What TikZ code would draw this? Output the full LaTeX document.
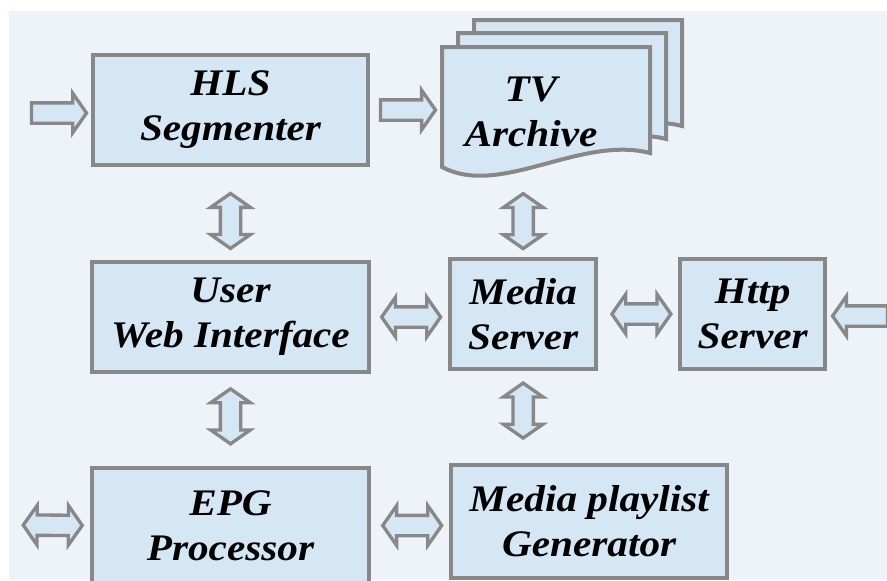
\documentclass[tikz,border=0pt]{standalone}
\usepackage{fontspec}
\newfontfamily\boxfont{Liberation Serif}[FakeStretch=1.1]
\usetikzlibrary{positioning,shapes.arrows,calc}
\definecolor{bgcol}{HTML}{EEF2F9}
\definecolor{boxfill}{HTML}{D5E6F5}
\definecolor{boxline}{HTML}{888888}

\begin{document}
\begin{tikzpicture}[x=0.03cm,y=-0.03cm,on grid,
	lbl/.style={align=center,inner sep=0pt,font=\boxfont\bfseries\itshape\fontsize{32}{38.4}\selectfont},
	box/.style={lbl,draw=boxline,fill=boxfill,line width=0.12cm,minimum height=3.3cm},
	sarrow/.style={single arrow,draw=boxline,fill=boxfill,line width=0.1cm,inner xsep=0pt,inner ysep=0.255cm,
		minimum width=0pt,minimum height=1.65cm,single arrow head extend=0.29cm,single arrow tip angle=110,
		sloped,allow upside down},
	darrow/.style={double arrow,draw=boxline,fill=boxfill,line width=0.1cm,inner xsep=0pt,inner ysep=0.255cm,
		minimum width=0pt,minimum height=1.65cm,double arrow head extend=0.29cm,double arrow tip angle=110,
		sloped}]
	\useasboundingbox (0,0) rectangle (887,580);
	\clip (0,0) rectangle (887,580);
	\fill[bgcol] (9,11) rectangle (887,580);

	% archive sheets
	\foreach \dx/\dy in {32/-27,16/-14,0/0}
		\draw[boxline,fill=boxfill,line width=0.12cm,shift={(\dx,\dy)}] (442,167) -- (442,47) -- (650,47) -- (650,153)
		.. controls (580,135) and (500,198) .. (442,167) -- cycle;

	\node[box,minimum width=8.25cm] (HLS_Seg) at (230.5,110) {HLS\\Segmenter};
	\node[inner sep=0pt,minimum width=6.24cm,minimum height=3.6cm] (TV_Arch) at (546,107) {};
	\node[lbl] (TV_Text) at ($(TV_Arch.center)+(-15,5)$) {TV\\Archive};
	\node[box,minimum width=8.31cm] (User_Web) [below=6.21cm of HLS_Seg] {User\\Web Interface};
	\node[box,minimum width=4.38cm] (Media_Srv) [above right=0.09cm and 8.78cm of User_Web] {Media\\Server};
	\node[box,minimum width=4.35cm] (Http_Srv) [right=6.885cm of Media_Srv] {Http\\Server};
	\node[box,minimum width=8.28cm,minimum height=3.45cm] (EPG_Proc) [below=6.255cm of User_Web] {EPG\\Processor};
	\node[box,minimum width=8.28cm,minimum height=3.39cm] (Playlist_Gen) [below right=6.225cm and 1.98cm of Media_Srv] {Media playlist\\Generator};

	\coordinate (HLS_In) at (20,113);
	\coordinate (Http_In) at (900,316);
	\coordinate (EPG_Out) at (15,525);

	\path (HLS_In) -- node[sarrow] {} (HLS_In -| HLS_Seg.west)
		(HLS_Seg.east) -- node[sarrow,pos=0.48] {} (HLS_Seg.east -| TV_Arch.west)
		(Http_In) -- node[sarrow] {} (Http_In -| Http_Srv.east);
	\path (HLS_Seg.south) -- node[darrow,pos=0.58] {} (HLS_Seg.south |- User_Web.north)
		(TV_Arch.south -| Media_Srv.north) -- node[darrow,pos=0.6] {} (Media_Srv.north)
		(User_Web.south) -- node[darrow,pos=0.46] {} (User_Web.south |- EPG_Proc.north)
		(Media_Srv.south) -- node[darrow,pos=0.43] {} (Media_Srv.south |- Playlist_Gen.north)
		(User_Web.east) -- node[darrow,pos=0.52,minimum height=1.77cm] {} (User_Web.east -| Media_Srv.west)
		(Media_Srv.east) -- node[darrow,pos=0.54,minimum height=1.77cm] {} (Http_Srv.west)
		(EPG_Proc.east) -- node[darrow,pos=0.53,minimum height=1.77cm] {} (EPG_Proc.east -| Playlist_Gen.west)
		(EPG_Proc.west) -- node[darrow,minimum height=1.77cm] {} (EPG_Out);
\end{tikzpicture}
\end{document}
